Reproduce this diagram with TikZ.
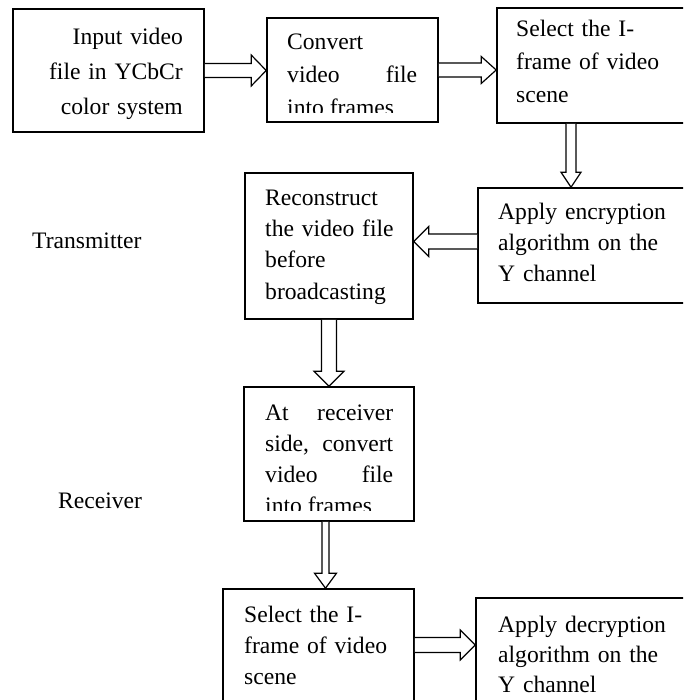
\documentclass[tikz,border=0pt]{standalone}
\usepackage{fontspec}
\setmainfont{Liberation Serif}
\usetikzlibrary{calc}

\newcommand{\blockarrow}[4]{%
  \draw[arr] let \p1=(#3), \p2=(#4), \n1={atan2(\y2-\y1,\x2-\x1)}, \n2={veclen(\x2-\x1,\y2-\y1)-15pt} in
    ($(\p1)+({\n1+90}:{#1pt})$) -- ($(\p1)+({\n1}:{\n2})+({\n1+90}:{#1pt})$)
    -- ($(\p1)+({\n1}:{\n2})+({\n1+90}:{#2pt})$) -- (\p2)
    -- ($(\p1)+({\n1}:{\n2})+({\n1-90}:{#2pt})$) -- ($(\p1)+({\n1}:{\n2})+({\n1-90}:{#1pt})$)
    -- ($(\p1)+({\n1-90}:{#1pt})$);}

\begin{document}
\begin{tikzpicture}[x=1pt, y=-1pt, font=\fontsize{23.6}{31}\selectfont,
  box/.style={draw, line width=1.6pt, inner sep=0pt},
  txt/.style={inner sep=0pt, anchor=base west, align=left},
  arr/.style={line width=1.2pt, fill=white}]
\clip (0,0) rectangle (683,700);
\node[box, minimum width=191pt, minimum height=123pt] (inp) at (108.5,70.5) {};
\node[box, minimum width=171pt, minimum height=104pt] (conv) at (352.5,70) {};
\node[box, minimum width=195pt, minimum height=115pt] (sel) at (594.5,65.5) {};
\node[box, minimum width=214pt, minimum height=115pt] (enc) at (585,245.5) {};
\node[box, minimum width=168pt, minimum height=146pt] (rec) at (329,246) {};
\node[box, minimum width=170pt, minimum height=134pt] (recv) at (329,454) {};
\node[box, minimum width=191pt, minimum height=121pt] (selb) at (318.5,649.5) {};
\node[box, minimum width=216pt, minimum height=112pt] (dec) at (584,654) {};

\node[txt, anchor=base east, align=right, text width=150pt, font=\fontsize{23.6}{35}\selectfont] (tinp) at (183,45) {Input video\\ file in YCbCr\\ color system};
\begin{scope}
  \clip (267,18) rectangle (438,113);
  \node[txt, align=justify, text width=130pt, font=\fontsize{23.6}{33}\selectfont] (tconv) at (287,50) {Convert\\ video\hfill file\\ into frames};
\end{scope}
\node[txt, text width=160pt, font=\fontsize{23.6}{33}\selectfont] (tsel) at (516,37) {Select the I-\\ frame of video\\ scene};
\node[txt, text width=180pt] (tenc) at (498,220) {Apply encryption\\ algorithm on the\\ Y channel};
\node[txt, text width=140pt] (trec) at (265,206) {Reconstruct\\ the video file\\ before\\ broadcasting};
\begin{scope}
  \clip (244,387) rectangle (414,510);
  \node[txt, align=justify, text width=128pt] (trecv) at (265,420) {At\hfill receiver\\ side,\hfill convert\\ video\hfill file\\ into frames};
\end{scope}
\node[txt, text width=160pt] (tselb) at (244,622) {Select the I-\\ frame of video\\ scene};
\node[txt, text width=180pt, font=\fontsize{23.6}{30}\selectfont] (tdec) at (498,632) {Apply decryption\\ algorithm on the\\ Y channel};

\node[txt] (tx) at (32,248) {Transmitter};
\node[txt] (rx) at (58,508) {Receiver};

\coordinate (etop) at ([xshift=-14pt]enc.north);
\coordinate (eout) at ([yshift=4pt]enc.west);
\coordinate (vout) at ([xshift=-3.5pt]recv.south);
\coordinate (sout) at ([yshift=4.5pt]selb.east);
\blockarrow{7}{15.5}{inp.east}{inp.east -| conv.west}
\blockarrow{7}{13.5}{conv.east}{conv.east -| sel.west}
\blockarrow{5}{10}{sel.south -| etop}{etop}
\blockarrow{7.5}{15}{eout}{eout -| rec.east}
\blockarrow{7.5}{15}{rec.south}{rec.south |- recv.north}
\blockarrow{3.5}{11}{vout}{vout |- selb.north}
\blockarrow{7.5}{15}{sout}{sout -| dec.west}
\end{tikzpicture}
\end{document}
